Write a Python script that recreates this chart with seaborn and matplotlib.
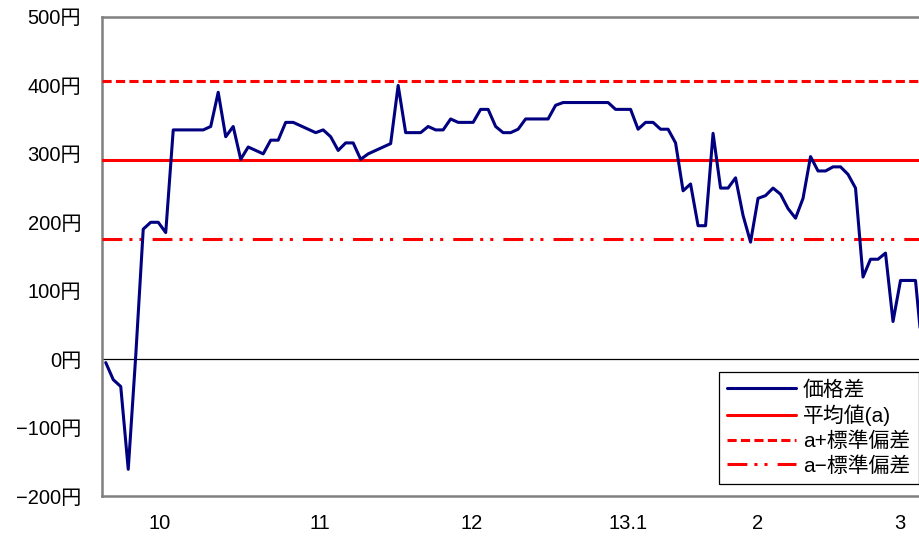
import numpy as np
import pandas as pd
import matplotlib
matplotlib.use("Agg")
import matplotlib.pyplot as plt
import seaborn as sns

# price difference series (yen), one value per observation
price_diff = [
    -5, -30, -40, -161, 5, 190, 200, 200, 185, 335,
    335, 335, 335, 335, 340, 390, 325, 340, 292, 310,
    305, 300, 320, 320, 346, 346, 341, 336, 331, 335,
    325, 305, 316, 316, 292, 300, 305, 310, 315, 400,
    331, 331, 331, 340, 335, 335, 351, 346, 346, 346,
    365, 365, 340, 331, 331, 336, 351, 351, 351, 351,
    371, 375, 375, 375, 375, 375, 375, 375, 365, 365,
    365, 336, 346, 346, 336, 336, 316, 246, 256, 195,
    195, 330, 250, 250, 265, 210, 171, 235, 239, 250,
    241, 220, 206, 235, 296, 275, 275, 281, 281, 270,
    250, 120, 146, 146, 155, 55, 115, 115, 115, 0,
]
mean_val = 291
std_val = 116

month_labels = ["10", "11", "12", "13.1", "2", "3"]
month_pos = [7.2, 28.6, 48.8, 69.6, 87.0, 105.9]

y_ticks = [-200, -100, 0, 100, 200, 300, 400, 500]
y_labels = ["\u2212200円", "\u2212100円", "0円", "100円", "200円", "300円", "400円", "500円"]

legend_labels = ["価格差", "平均値(a)", "a+標準偏差", "a\u2212標準偏差"]

df = pd.DataFrame({"idx": np.arange(len(price_diff)), "diff": price_diff})

sns.set_style("white")
plt.rcParams["font.family"] = ["Liberation Sans", "Noto Sans CJK JP", "DejaVu Sans"]
plt.rcParams["text.color"] = "black"
plt.rcParams["xtick.color"] = "black"
plt.rcParams["ytick.color"] = "black"

fig = plt.figure(figsize=(9.2, 5.36), dpi=100)
ax = fig.add_axes([102 / 920, 40 / 536, 818 / 920, 479 / 536])

ax.axhline(0, color="black", lw=0.9, zorder=1)
sns.lineplot(data=df, x="idx", y="diff", ax=ax, color="#000080", lw=2.2,
             label=legend_labels[0], zorder=5)
ax.axhline(mean_val, color="#ff0000", lw=2.2, label=legend_labels[1], zorder=3)
ax.axhline(mean_val + std_val, color="#ff0000", lw=2.2,
           ls=(0, (3.0, 1.4)), label=legend_labels[2], zorder=3)
ax.axhline(mean_val - std_val, color="#ff0000", lw=2.2,
           ls=(0, (6.5, 2.3, 1.0, 2.3, 1.0, 3.3)), label=legend_labels[3], zorder=3)

ax.set_xlim(-0.5, 108.6)
ax.set_ylim(-200, 500)
ax.set_yticks(y_ticks)
ax.set_yticklabels(y_labels)
ax.set_xticks(month_pos)
ax.set_xticklabels(month_labels)
ax.tick_params(axis="y", length=0, labelsize=14.5, pad=15)
ax.tick_params(axis="x", length=0, labelsize=14.5, pad=13)
ax.set_xlabel("")
ax.set_ylabel("")

for side in ["left", "bottom", "top"]:
    ax.spines[side].set_color("#808080")
    ax.spines[side].set_linewidth(1.8)
ax.spines["right"].set_visible(False)

leg = ax.legend(loc="lower right", bbox_to_anchor=(0.9985, 0.025), fontsize=15,
                frameon=True, fancybox=False, edgecolor="black", framealpha=1,
                handlelength=3.3, labelspacing=0.25, borderpad=0.4,
                handletextpad=0.35, borderaxespad=0)
leg.get_frame().set_linewidth(0.9)

fig.savefig("out.png", dpi=100)
